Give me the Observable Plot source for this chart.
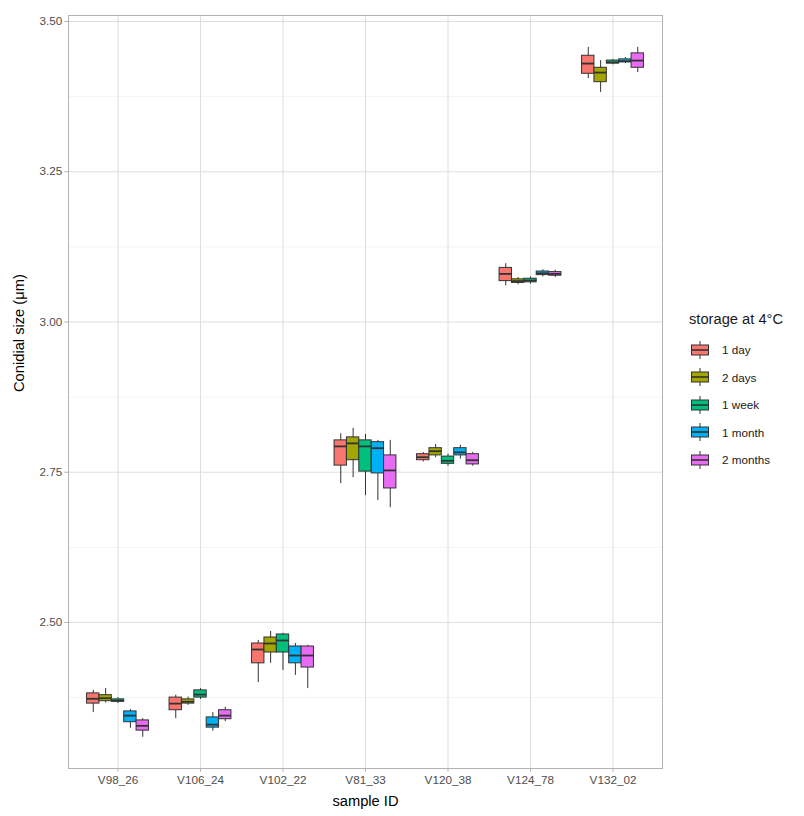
<!DOCTYPE html>
<html><head><meta charset="utf-8">
<script src="https://cdn.jsdelivr.net/npm/d3@7"></script>
<script src="https://cdn.jsdelivr.net/npm/@observablehq/plot@0.6"></script>
<style>
body{margin:0;background:#fff;font-family:"Liberation Sans",Arial,sans-serif;}
#wrap{position:relative;width:804px;height:816px;}
#legend{position:absolute;left:689px;top:311px;color:#1a1a1a;}
#legend .title{font-size:14.7px;line-height:17px;margin-bottom:8px;white-space:nowrap;}
#legend .row{display:flex;align-items:center;height:27.5px;font-size:11.7px;}
#legend .row svg{margin-right:11px;}
</style></head><body>
<div id="wrap"><div id="chart"></div><div id="legend"></div></div>
<script>
const samples = ["V98_26","V106_24","V102_22","V81_33","V120_38","V124_78","V132_02"];
const storage = ["1 day","2 days","1 week","1 month","2 months"];
const colors = ["#F8766D","#A3A500","#00BF7D","#00B0F6","#E76BF3"];
const yTicks = [2.50, 2.75, 3.00, 3.25, 3.50];
const yMinorTicks = [2.375, 2.625, 2.875, 3.125, 3.375];

// rows: storage group, columns: samples (same order as `samples`)
const whiskerLow = [
  [2.350, 2.340, 2.400, 2.731, 2.767, 3.060, 3.405],
  [2.366, 2.362, 2.432, 2.741, 2.774, 3.062, 3.382],
  [2.365, 2.372, 2.420, 2.711, 2.760, 3.063, 3.428],
  [2.324, 2.319, 2.412, 2.703, 2.772, 3.075, 3.430],
  [2.309, 2.335, 2.390, 2.691, 2.760, 3.074, 3.415]
];
const q1 = [
  [2.365, 2.354, 2.432, 2.761, 2.770, 3.068, 3.413],
  [2.369, 2.365, 2.450, 2.770, 2.778, 3.065, 3.399],
  [2.368, 2.375, 2.450, 2.751, 2.764, 3.066, 3.430],
  [2.334, 2.325, 2.432, 2.748, 2.778, 3.078, 3.432],
  [2.320, 2.339, 2.425, 2.723, 2.763, 3.077, 3.423]
];
const median = [
  [2.373, 2.365, 2.455, 2.793, 2.775, 3.080, 3.430],
  [2.374, 2.368, 2.465, 2.798, 2.785, 3.068, 3.415],
  [2.370, 2.380, 2.470, 2.793, 2.769, 3.069, 3.432],
  [2.345, 2.330, 2.445, 2.790, 2.783, 3.081, 3.434],
  [2.328, 2.345, 2.445, 2.753, 2.770, 3.080, 3.435]
];
const q3 = [
  [2.382, 2.375, 2.465, 2.803, 2.780, 3.090, 3.443],
  [2.379, 2.372, 2.475, 2.808, 2.790, 3.071, 3.423],
  [2.372, 2.387, 2.480, 2.803, 2.776, 3.072, 3.435],
  [2.352, 2.342, 2.460, 2.800, 2.790, 3.084, 3.437],
  [2.337, 2.354, 2.460, 2.778, 2.780, 3.083, 3.447]
];
const whiskerHigh = [
  [2.387, 2.379, 2.470, 2.814, 2.783, 3.097, 3.457],
  [2.390, 2.376, 2.485, 2.823, 2.796, 3.074, 3.435],
  [2.375, 2.390, 2.482, 2.813, 2.780, 3.075, 3.437],
  [2.355, 2.350, 2.465, 2.803, 2.795, 3.087, 3.440],
  [2.340, 2.359, 2.462, 2.803, 2.783, 3.086, 3.457]
];

// build table with dodged positions (ggplot-like: group width 0.75)
const dodge = 0.75 / storage.length;
const rows = [];
storage.forEach((g, j) => samples.forEach((s, i) => {
  const cx = i + (j - (storage.length - 1) / 2) * dodge;
  rows.push({sample: s, group: g, x: cx, x1: cx - dodge / 2, x2: cx + dodge / 2,
    lo: whiskerLow[j][i], q1: q1[j][i], med: median[j][i], q3: q3[j][i], hi: whiskerHigh[j][i]});
}));
const catIdx = samples.map((s, i) => i);

const chart = Plot.plot({
  width: 804, height: 816,
  marginLeft: 68, marginRight: 142, marginTop: 15, marginBottom: 48,
  style: {fontFamily: '"Liberation Sans", Arial, sans-serif', fontSize: "11.7px", background: "white", color: "#4D4D4D"},
  x: {type: "linear", domain: [-0.6, samples.length - 0.4], axis: null},
  y: {domain: [2.257, 3.51], axis: null},
  color: {domain: storage, range: colors},
  marks: [
    Plot.ruleY(yMinorTicks, {stroke: "#EEEEEE", strokeWidth: 0.7}),
    Plot.ruleY(yTicks, {stroke: "#DEDEDE", strokeWidth: 1}),
    Plot.ruleX(catIdx, {stroke: "#DEDEDE", strokeWidth: 1}),
    Plot.frame({stroke: "#B3B3B3", strokeWidth: 1}),
    Plot.axisY(yTicks, {tickFormat: d => d.toFixed(2), tickSize: 3.7, tickPadding: 2.5, stroke: "#B3B3B3", fill: "#4D4D4D", label: null}),
    Plot.axisX(catIdx, {tickFormat: i => samples[i], tickSize: 3.7, tickPadding: 3, stroke: "#B3B3B3", fill: "#4D4D4D", label: null}),
    Plot.ruleX(rows, {x: "x", y1: "lo", y2: "hi", stroke: "#333333", strokeWidth: 1}),
    Plot.rect(rows, {x1: "x1", x2: "x2", y1: "q1", y2: "q3", fill: "group", stroke: "#333333", strokeWidth: 1}),
    Plot.ruleY(rows, {y: "med", x1: "x1", x2: "x2", stroke: "#333333", strokeWidth: 1.8}),
    Plot.text(["sample ID"], {frameAnchor: "bottom", dy: 37, fontSize: 14.7, fill: "#000"}),
    Plot.text(["Conidial size (μm)"], {frameAnchor: "left", rotate: -90, dx: -49, fontSize: 14.7, fill: "#000"})
  ]
});
document.getElementById("chart").appendChild(chart);

// legend (ggplot-style box glyph keys)
const legend = d3.select("#legend");
legend.append("div").attr("class", "title").text("storage at 4°C");
storage.forEach((g, j) => {
  const row = legend.append("div").attr("class", "row");
  const svg = row.append("svg").attr("width", 22).attr("height", 22);
  svg.append("line").attr("x1", 11).attr("x2", 11).attr("y1", 2).attr("y2", 20).attr("stroke", "#333").attr("stroke-width", 1);
  svg.append("rect").attr("x", 2.5).attr("y", 6).attr("width", 17).attr("height", 10)
    .attr("fill", colors[j]).attr("stroke", "#333").attr("stroke-width", 1);
  svg.append("line").attr("x1", 2.5).attr("x2", 19.5).attr("y1", 11).attr("y2", 11).attr("stroke", "#333").attr("stroke-width", 1.6);
  row.append("span").text(g);
});
</script>
</body></html>
